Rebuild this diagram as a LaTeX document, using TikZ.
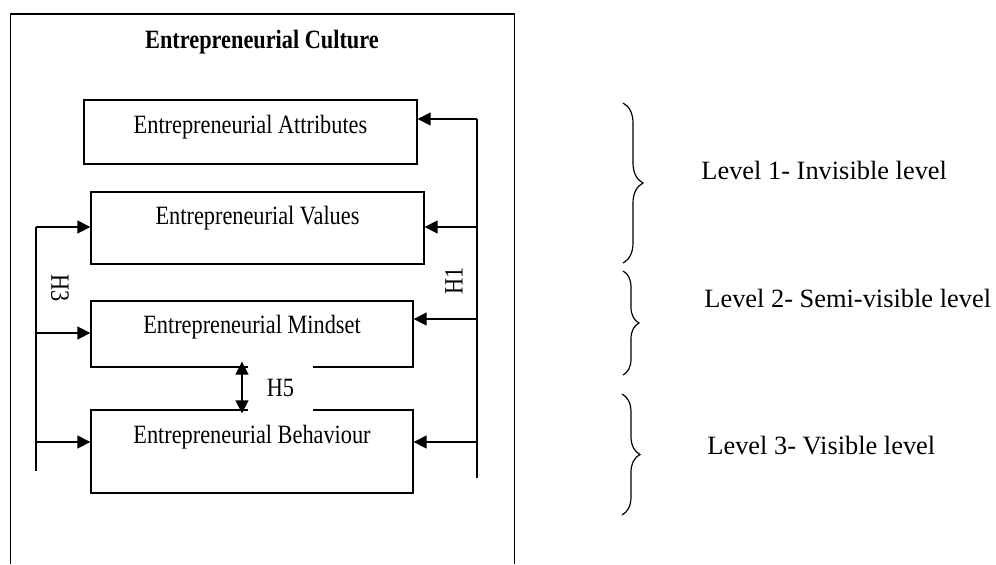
\documentclass[tikz,border=0pt]{standalone}
\usepackage{fontspec}
\setmainfont{Liberation Serif}
\newfontfamily\condfont[FakeStretch=0.845]{Liberation Serif}
\usetikzlibrary{arrows.meta,decorations.pathreplacing,calc}
\begin{document}
\begin{tikzpicture}[x=0.5pt,y=-0.5pt,
  box/.style={draw,line width=0.65pt,rectangle,inner sep=0pt},
  txt/.style={font=\condfont\fontsize{13.2}{15}\selectfont,inner sep=0pt},
  lvl/.style={font=\fontsize{13.2}{15}\selectfont,inner sep=0pt,anchor=west},
  conn/.style={line width=0.65pt},
  arr/.style={line width=0.65pt,-{Triangle[length=6.5pt,width=6.5pt]}},
  dblarr/.style={line width=0.65pt,{Triangle[length=6.5pt,width=6.5pt]}-{Triangle[length=6.5pt,width=6.5pt]}},
  brc/.style={line width=0.6pt,decorate,decoration={brace,amplitude=#1}},
]
\useasboundingbox (0,0) rectangle (996,564);
% outer frame
\draw[conn] (10.5,564) -- (10.5,14) -- (514.5,14) -- (514.5,564);
\node[txt,font=\condfont\fontsize{13.2}{15}\selectfont\bfseries] (title) at (262,42) {Entrepreneurial Culture};
% boxes
\node[box,minimum width=166.5pt,minimum height=32pt] (att) at (250.5,132) {};
\node[txt] (attT) at (250.5,127) {Entrepreneurial Attributes};
\node[box,minimum width=166.5pt,minimum height=36pt] (val) at (257.5,228) {};
\node[txt] (valT) at (257.5,218) {Entrepreneurial Values};
\node[box,minimum width=161pt,minimum height=33pt] (mind) at (252,334) {};
\node[txt] (mindT) at (252,327) {Entrepreneurial Mindset};
\node[box,minimum width=161pt,minimum height=41.5pt] (beh) at (252,451.5) {};
\node[txt] (behT) at (252,437) {Entrepreneurial Behaviour};
% H5
\node[txt,fill=white,minimum width=32.5pt,minimum height=26pt] (h5) at (280.5,388) {H5};
\coordinate (h5x) at (242,388);
\draw[dblarr] ([yshift=3pt]mind.south -| h5x) -- ([yshift=-2pt]beh.north -| h5x);
% left H3 bus
\coordinate (L1) at (36,227);
\coordinate (L2) at (36,333);
\coordinate (L3) at (36,442);
\coordinate (Lb) at (36,471);
\draw[conn] (L1) -- (Lb);
\draw[arr] (L1) -- (L1 -| val.west);
\draw[arr] (L2) -- (L2 -| mind.west);
\draw[arr] (L3) -- (L3 -| beh.west);
\node[txt,rotate=-90] (h3) at (60,288) {H3};
% right H1 bus
\coordinate (R0) at (477,119);
\coordinate (R1) at (477,227);
\coordinate (R2) at (477,319);
\coordinate (R3) at (477,442);
\coordinate (Rb) at (477,478);
\draw[conn] (R0) -- (Rb);
\draw[arr] (R0) -- (R0 -| att.east);
\draw[arr] (R1) -- (R1 -| val.east);
\draw[arr] (R2) -- (R2 -| mind.east);
\draw[arr] (R3) -- (R3 -| beh.east);
\node[txt,rotate=90] (h1) at (454,281) {H1};
% braces
\draw[brc=10pt] (623,103) -- (623,263);
\draw[brc=8pt] (623,271) -- (623,375);
\draw[brc=9pt] (622,394) -- (622,515);
\node[lvl] (lv1) at (701,170) {Level 1- Invisible level};
\node[lvl] (lv2) at (704,298) {Level 2- Semi-visible level};
\node[lvl] (lv3) at (707,446) {Level 3- Visible level};
\end{tikzpicture}
\end{document}
